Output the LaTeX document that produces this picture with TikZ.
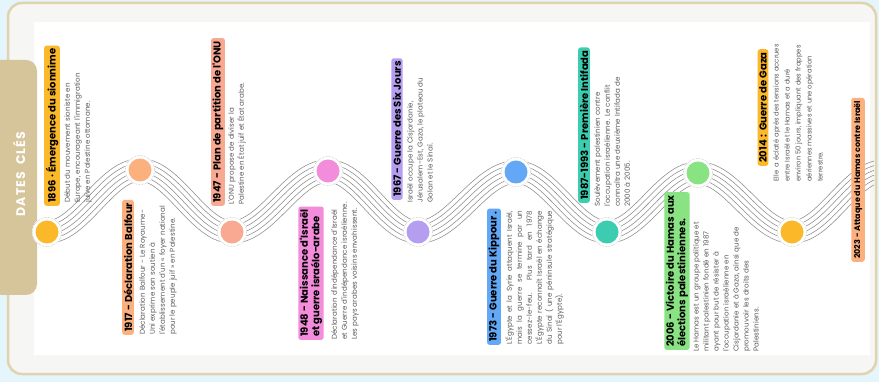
\documentclass[tikz,border=0pt]{standalone}
\usepackage{fontspec}
\setmainfont{Poppins}
\newfontfamily\labfont{Poppins}
\newfontfamily\descfont{Poppins}[LetterSpace=1]
\newfontfamily\smalldescfont{Poppins}
\newfontfamily\tabfont{Poppins}[LetterSpace=8]
\definecolor{bgblue}{HTML}{E4F5FB}
\definecolor{framebeige}{HTML}{E0D3AE}
\definecolor{framegray}{HTML}{F6F6F4}
\definecolor{tabbeige}{HTML}{D6C49B}
\definecolor{ringgray}{HTML}{B5B5B5}
\definecolor{strandgray}{HTML}{8C8C8C}
\definecolor{descgray}{HTML}{5A5A5A}
\definecolor{cyel}{HTML}{FBB829}
\definecolor{corg}{HTML}{FBB07E}
\definecolor{csal}{HTML}{F9A891}
\definecolor{cpink}{HTML}{F28CDB}
\definecolor{clav}{HTML}{B59EF0}
\definecolor{cblue}{HTML}{62A8F7}
\definecolor{cteal}{HTML}{3CCDB0}
\definecolor{cgreen}{HTML}{89E383}
\newcommand\ribbonseg[4]{%
 \foreach \off in {-11.25,-6.75,-2.25,2.25,6.75,11.25}{%
  \draw[strand] plot[domain=0:1,samples=60,variable=\uu]
   ({#1+\uu*(#3-#1)+(\off)*(((#2)-(#4))/2)*pi/((#3)-(#1))*sin(180*\uu)/sqrt(1+((((#2)-(#4))/2)*pi/((#3)-(#1))*sin(180*\uu))^2)},
    {((#2)+(#4))/2+(((#2)-(#4))/2)*cos(180*\uu)+(\off)/sqrt(1+((((#2)-(#4))/2)*pi/((#3)-(#1))*sin(180*\uu))^2)});
 }}
\tikzset{
 strand/.style={strandgray, line width=0.55pt},
 dotnode/.style={circle, fill=#1, minimum size=23pt, inner sep=0pt},
 lab/.style={rotate=90, anchor=west, fill=#1, rounded corners=2.5pt, inner xsep=3pt, inner ysep=1.6pt,
   font=\labfont\bfseries\fontsize{10}{11.5}\selectfont, text=black, align=left},
 desc/.style={rotate=90, anchor=north west, align=left, inner sep=0pt,
   font=\descfont\fontsize{7.1}{10}\selectfont, text=descgray},
}
\begin{document}
\begin{tikzpicture}[x=1pt,y=-1pt]
\useasboundingbox (0,0) rectangle (879,382);
\fill[bgblue] (0,0) rectangle (879,382);
\draw[framebeige, line width=2.5pt, fill=framegray, rounded corners=14pt] (8,3) rectangle (876,374);
\fill[white] (34,22) rectangle (870,355);
\fill[tabbeige, rounded corners=11pt] (-15,60) rectangle (37,295);
\node[rotate=90, text=white, font=\tabfont\bfseries\fontsize{12.5}{12.5}\selectfont] (tab) at (19,174) {DATES\ \ CLÉS};
% ribbon
\ribbonseg{47}{232}{140}{170}
\ribbonseg{140}{170}{232}{232}
\ribbonseg{232}{232}{328}{171}
\ribbonseg{328}{171}{418}{232}
\ribbonseg{418}{232}{516}{172}
\ribbonseg{516}{172}{607}{232}
\ribbonseg{607}{232}{698}{173}
\ribbonseg{698}{173}{792}{232}
\begin{scope}
\clip (700,22) rectangle (874,355);
\ribbonseg{792}{232}{884}{171}
\end{scope}
% circles
\foreach \n/\x/\y/\c in {1/47/232/cyel,2/140/170/corg,3/232/232/csal,4/328/171/cpink,5/418/232/clav,6/516/172/cblue,7/607/232/cteal,8/698/173/cgreen,9/792/232/cyel}{
  \coordinate (p\n) at (\x,\y);
  \fill[white] (p\n) circle (15pt);
  \draw[ringgray, densely dotted, line width=0.5pt] (p\n) circle (14.5pt);
  \node[dotnode=\c] (c\n) at (p\n) {};
}
% 1896
\node[lab=cyel] (l1) at (52,206) {1896 · Émergence du sionnime};
\node[desc] (d1) at (64,203) {Début du mouvement sioniste en\\Europe, encourageant l'immigration\\juive en Palestine ottomane.};
% 1917
\node[lab=corg] (l2) at (128,335) {1917 - Déclaration Balfour};
\node[desc] (d2) at (139,335) {Déclaration Balfour - Le Royaume-\\Uni exprime son soutien à\\l'établissement d'un « foyer national\\pour le peuple juif » en Palestine.};
% 1947
\node[lab=csal] (l3) at (218,206) {1947 - Plan de partition de l'ONU};
\node[desc] (d3) at (228,205) {L'ONU propose de diviser la\\Palestine en État juif et État arabe.};
% 1948
\node[lab=cpink] (l4) at (311,340) {1948 - Naissance d'Israël\\et guerre israélo-arabe};
\node[desc] (d4) at (331,340) {Déclaration d'indépendance d'Israël\\et Guerre d'indépendance israélienne.\\Les pays arabes voisins envahissent.};
% 1967
\node[lab=clav] (l5) at (397,200) {1967 - Guerre des Six Jours};
\node[desc] (d5) at (407,203) {Israël occupe la Cisjordanie,\\Jérusalem-Est, Gaza, le plateau du\\Golan et le Sinaï.};
% 1973
\node[lab=cblue] (l6) at (494,345) {1973 - Guerre du Kippour .};
\node[desc] (d6) at (505,345) {\makebox[134pt][s]{L'Égypte et la Syrie attaquent Israël,}\\\makebox[134pt][s]{mais la guerre se termine par un}\\\makebox[134pt][s]{cessez-le-feu. Plus tard en 1978}\\\makebox[134pt][s]{L'Égypte reconnaît Israël en échange}\\\makebox[134pt][s]{du Sinaï ( une péninsule stratégique}\\pour l'Égypte).};
% 1987
\node[lab=cteal] (l7) at (584,203) {1987-1993 - Première Intifada};
\node[desc] (d7) at (594,207) {Soulèvement palestinien contre\\l'occupation israélienne. Le conflit\\connaîtra une deuxième Intifada de\\2000 à 2005.};
% 2006
\node[lab=cgreen] (l8) at (677,350) {2006 - Victoire du Hamas aux\\élections palestiniennes.};
\node[desc] (d8) at (693,352) {Le Hamas est un groupe politique et\\militant palestinien fondé en 1987\\ayant pour but de résister à\\l'occupation israélienne en\\Cisjordanie et à Gaza, ainsi que de\\promouvoir les droits des\\Palestiniens.};
% 2014
\node[lab=cyel] (l9) at (763,166) {2014 :\ \ Guerre de Gaza};
\node[desc, font=\smalldescfont\fontsize{6.8}{11}\selectfont] (d9) at (773,182) {Elle\ \ a éclaté après des tensions accrues\\entre Israël et le Hamas et a duré\\environ 50 jours, impliquant des frappes\\aériennes massives et une opération\\terrestre.};
% 2023
\node[lab=corg, font=\labfont\bfseries\fontsize{8}{9}\selectfont, inner ysep=2.6pt] (l10) at (858,262) {2023 - Attaque du Hamas contre Israël};
\end{tikzpicture}
\end{document}
